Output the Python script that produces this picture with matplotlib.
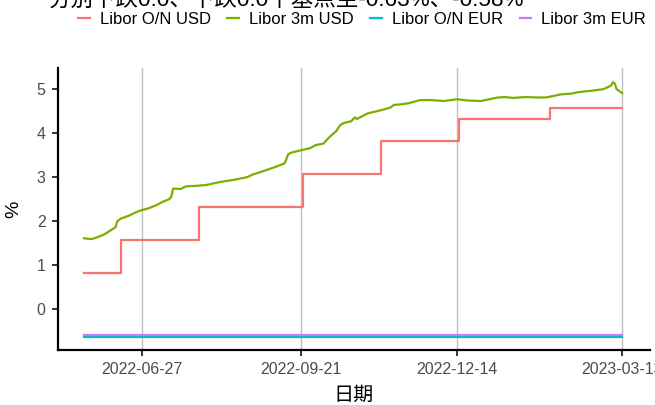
import matplotlib
matplotlib.use("Agg")
import matplotlib.pyplot as plt
from matplotlib.lines import Line2D
import pandas as pd

plt.rcParams['font.family'] = ['Liberation Sans', 'Noto Sans CJK SC', 'DejaVu Sans']

title = "分别下跌0.0、下跌0.0个基点至-0.63%、-0.58%"
series_names = ["Libor O/N USD", "Libor 3m USD", "Libor O/N EUR", "Libor 3m EUR"]
colours = ["#F8766D", "#7CAE00", "#00BFC4", "#C77CFF"]

# O/N USD only moves on Fed decision days -> change points
on_usd_dates = ["2022-05-27", "2022-06-16", "2022-07-28", "2022-09-22",
                "2022-11-03", "2022-12-15", "2023-02-02", "2023-03-13"]
on_usd_vals = [0.82, 1.57, 2.32, 3.07, 3.82, 4.32, 4.57, 4.56]

m3_usd_dates = ["2022-05-27", "2022-05-31", "2022-06-03", "2022-06-07", "2022-06-10",
                "2022-06-13", "2022-06-14", "2022-06-16", "2022-06-20", "2022-06-24",
                "2022-06-27", "2022-06-30", "2022-07-05", "2022-07-08", "2022-07-12",
                "2022-07-13", "2022-07-14", "2022-07-18", "2022-07-21", "2022-07-26",
                "2022-08-01", "2022-08-05", "2022-08-10", "2022-08-16", "2022-08-23",
                "2022-08-26", "2022-09-01", "2022-09-07", "2022-09-12", "2022-09-13",
                "2022-09-14", "2022-09-16", "2022-09-21", "2022-09-26", "2022-09-29",
                "2022-10-03", "2022-10-06", "2022-10-10", "2022-10-12", "2022-10-14",
                "2022-10-18", "2022-10-20", "2022-10-21", "2022-10-27", "2022-11-03",
                "2022-11-08", "2022-11-10", "2022-11-15", "2022-11-18", "2022-11-24",
                "2022-11-30", "2022-12-07", "2022-12-14", "2022-12-20", "2022-12-27",
                "2023-01-05", "2023-01-09", "2023-01-13", "2023-01-20", "2023-01-26",
                "2023-01-31", "2023-02-08", "2023-02-14", "2023-02-17", "2023-02-24",
                "2023-03-03", "2023-03-07", "2023-03-08", "2023-03-09", "2023-03-10",
                "2023-03-13"]
m3_usd_vals = [1.61, 1.59, 1.63, 1.70, 1.78,
               1.86, 2.00, 2.06, 2.12, 2.20,
               2.25, 2.28, 2.36, 2.43, 2.50,
               2.55, 2.74, 2.73, 2.79, 2.80,
               2.82, 2.86, 2.90, 2.94, 3.00,
               3.06, 3.14, 3.23, 3.31, 3.40,
               3.52, 3.56, 3.61, 3.66, 3.73,
               3.76, 3.90, 4.05, 4.18, 4.23,
               4.27, 4.36, 4.32, 4.45, 4.52,
               4.58, 4.64, 4.66, 4.68, 4.75,
               4.75, 4.73, 4.77, 4.74, 4.73,
               4.81, 4.82, 4.80, 4.82, 4.81,
               4.81, 4.88, 4.90, 4.93, 4.96,
               5.00, 5.08, 5.16, 5.13, 5.00,
               4.91]

eur_dates = ["2022-05-27", "2023-03-13"]
on_eur_vals = [-0.63, -0.63]
m3_eur_vals = [-0.58, -0.58]

xtick_dates = ["2022-06-27", "2022-09-21", "2022-12-14", "2023-03-13"]
yticks = [0, 1, 2, 3, 4, 5]

fig = plt.figure(figsize=(6.55, 4.05), dpi=100)
ax = fig.add_axes([58 / 655, 1 - 350 / 405, 592 / 655, 282 / 405])

lw = 1.6
ax.plot(pd.to_datetime(on_usd_dates), on_usd_vals, color=colours[0], lw=lw,
        drawstyle="steps-post")
ax.plot(pd.to_datetime(m3_usd_dates), m3_usd_vals, color=colours[1], lw=lw)
ax.plot(pd.to_datetime(eur_dates), on_eur_vals, color=colours[2], lw=lw)
ax.plot(pd.to_datetime(eur_dates), m3_eur_vals, color=colours[3], lw=lw)

ax.set_xlim(pd.Timestamp("2022-05-13"), pd.Timestamp("2023-03-28"))
ax.set_ylim(-0.93, 5.48)

xt = pd.to_datetime(xtick_dates)
ax.set_xticks(xt)
ax.set_xticklabels(xtick_dates)
ax.set_yticks(yticks)
ax.set_yticklabels([str(v) for v in yticks])

for d in xt:
    ax.axvline(d, color="#BEBEBE", lw=1.0, zorder=0)

for side in ("top", "right"):
    ax.spines[side].set_visible(False)
for side in ("left", "bottom"):
    ax.spines[side].set_linewidth(1.6)
    ax.spines[side].set_color("black")

ax.tick_params(axis="both", length=4, width=1.4, color="#333333",
               labelcolor="#4D4D4D", labelsize=11.5, pad=5)

ax.set_xlabel("日期", fontsize=14.5, color="black", labelpad=5,
              family=["Noto Sans CJK SC", "DejaVu Sans"])
ax.set_ylabel("%", fontsize=14, color="black", labelpad=10)

handles = [Line2D([], [], color=c, lw=1.6) for c in colours]
fig.legend(handles, series_names, ncol=4, loc="center",
           bbox_to_anchor=(362 / 655, 1 - 19 / 405), frameon=False,
           fontsize=12, handlelength=0.7, handletextpad=0.6, columnspacing=1.0,
           borderaxespad=0, borderpad=0)

fig.text(48 / 655, 1 - 7 / 405, title, fontsize=16.2, va="baseline", ha="left",
         color="black", family=["Liberation Sans", "Noto Sans CJK SC"])

fig.savefig("out.png", dpi=100)
